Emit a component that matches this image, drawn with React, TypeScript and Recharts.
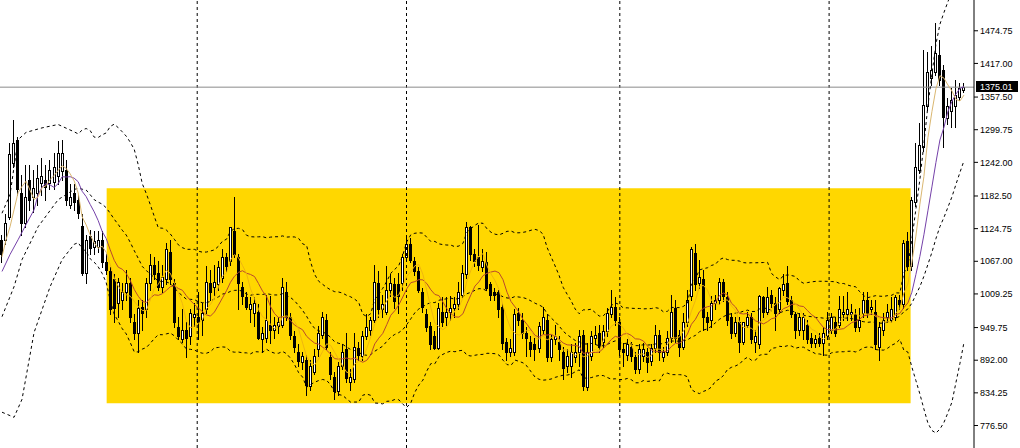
import { ComposedChart, Bar, Line, XAxis, YAxis, ReferenceArea, ReferenceLine } from 'recharts'

// OHLC, one entry per bar
const opens = [
  1105, 1105, 1146, 1241, 1282, 1188, 1135, 1211, 1181, 1188, 1206, 1211, 1206, 1208, 1217, 1226, 1229, 1167, 1188, 1176,
  1130, 1047, 1111, 1093, 1093, 1105, 1065, 1049, 1035, 994, 999, 1012, 1029, 959, 941, 987, 982, 1029, 1061, 1047,
  1022, 1035, 1084, 1029, 950, 929, 946, 934, 968, 969, 964, 982, 1029, 1022, 1026, 1038, 1074, 1067, 1120, 1075,
  1022, 1003, 982, 976, 978, 929, 932, 955, 945, 952, 955, 1012, 969, 934, 907, 888, 893, 846, 872, 911,
  937, 964, 897, 863, 837, 881, 911, 854, 858, 914, 899, 934, 945, 964, 1029, 982, 978, 1017, 1026, 1026,
  1029, 1074, 1097, 1067, 1049, 1013, 973, 952, 934, 914, 978, 968, 978, 985, 991, 1008, 1044, 1127, 1079, 1075,
  1056, 1065, 1026, 1013, 1012, 987, 925, 906, 907, 976, 964, 941, 925, 920, 914, 946, 964, 897, 929, 925,
  907, 881, 881, 897, 906, 937, 844, 899, 932, 941, 925, 943, 973, 987, 959, 911, 902, 916, 897, 876,
  899, 906, 890, 914, 937, 897, 907, 932, 985, 937, 916, 959, 1005, 1082, 1029, 1035, 968, 964, 994, 999,
  1031, 1003, 968, 941, 959, 925, 955, 968, 925, 920, 1003, 978, 1008, 994, 982, 1017, 1029, 999, 973, 946,
  945, 955, 932, 923, 932, 923, 934, 946, 959, 955, 973, 973, 973, 973, 950, 976, 998, 982, 978, 916,
  945, 969, 964, 968, 999, 991, 1102, 1058, 1171, 1229, 1269, 1341, 1392, 1402, 1432, 1406, 1321, 1332, 1341, 1358,
  1370,
]
const highs = [
  1114, 1150, 1277, 1317, 1286, 1220, 1238, 1238, 1229, 1238, 1250, 1238, 1247, 1259, 1279, 1282, 1247, 1203, 1203, 1185,
  1150, 1114, 1123, 1120, 1120, 1120, 1079, 1056, 1044, 1038, 1029, 1052, 1038, 973, 999, 999, 1038, 1079, 1074, 1067,
  1061, 1100, 1105, 1035, 968, 982, 960, 982, 994, 1012, 994, 1058, 1052, 1061, 1067, 1088, 1082, 1128, 1181, 1079,
  1031, 1013, 1003, 1003, 991, 950, 1008, 1005, 968, 969, 1038, 1031, 976, 943, 920, 907, 902, 893, 911, 952,
  978, 973, 907, 872, 888, 920, 941, 876, 941, 925, 943, 973, 969, 1061, 1049, 1008, 1058, 1044, 1038, 1047,
  1079, 1109, 1109, 1074, 1056, 1020, 982, 960, 943, 994, 1003, 1003, 1005, 1003, 1031, 1061, 1137, 1130, 1088, 1132,
  1088, 1084, 1031, 1020, 1017, 994, 932, 929, 982, 985, 976, 950, 934, 932, 959, 987, 973, 937, 955, 934,
  916, 911, 920, 923, 946, 946, 923, 943, 952, 955, 955, 985, 1017, 1003, 968, 923, 929, 925, 907, 920,
  923, 914, 920, 955, 946, 916, 943, 1008, 999, 946, 976, 1017, 1093, 1097, 1070, 1052, 978, 1005, 1008, 1038,
  1035, 1012, 976, 969, 968, 960, 978, 976, 946, 1008, 1005, 1022, 1017, 1003, 1022, 1044, 1058, 1005, 978, 976,
  976, 964, 941, 937, 941, 950, 978, 976, 968, 1005, 1005, 1013, 991, 982, 985, 1012, 1012, 999, 999, 960,
  976, 991, 1003, 1008, 1008, 1105, 1118, 1181, 1277, 1312, 1441, 1438, 1447, 1489, 1459, 1415, 1356, 1374, 1388, 1383,
  1383,
]
const lows = [
  1066, 1097, 1141, 1234, 1185, 1114, 1127, 1158, 1155, 1167, 1185, 1176, 1194, 1194, 1203, 1211, 1167, 1162, 1158, 1144,
  1043, 1029, 1079, 1079, 1084, 1056, 1044, 973, 959, 968, 982, 999, 960, 929, 906, 946, 968, 1017, 1035, 1017,
  1013, 1026, 1026, 950, 929, 925, 897, 920, 952, 929, 937, 976, 999, 1008, 1017, 1031, 1049, 1061, 1074, 982,
  991, 982, 960, 952, 929, 907, 925, 923, 932, 941, 950, 964, 929, 906, 881, 876, 831, 840, 867, 899,
  932, 911, 858, 823, 831, 876, 853, 840, 853, 893, 893, 929, 937, 960, 968, 968, 973, 1005, 985, 976,
  1017, 1067, 1065, 1042, 1012, 978, 943, 911, 911, 911, 952, 955, 964, 968, 982, 1003, 1038, 1070, 1059, 1052,
  1049, 1017, 999, 999, 969, 911, 893, 899, 902, 955, 932, 899, 899, 893, 907, 941, 890, 890, 920, 893,
  858, 872, 863, 888, 881, 840, 840, 893, 920, 907, 916, 934, 968, 955, 902, 881, 893, 890, 870, 870,
  890, 872, 884, 907, 893, 890, 902, 925, 925, 899, 911, 952, 999, 1017, 1020, 946, 946, 950, 982, 991,
  996, 955, 932, 934, 907, 920, 950, 923, 906, 914, 969, 973, 987, 946, 976, 1008, 991, 968, 932, 937,
  929, 923, 916, 916, 918, 902, 929, 941, 934, 950, 964, 964, 964, 943, 943, 969, 969, 973, 911, 893,
  937, 960, 959, 964, 982, 985, 1052, 1052, 1164, 1224, 1262, 1335, 1379, 1397, 1379, 1269, 1309, 1305, 1305, 1353,
  1367,
]
const closes = [
  1079, 1135, 1256, 1277, 1194, 1135, 1181, 1176, 1197, 1215, 1217, 1199, 1229, 1234, 1259, 1259, 1176, 1181, 1171, 1153,
  1047, 1105, 1091, 1102, 1105, 1065, 1052, 982, 985, 1031, 1012, 1029, 969, 941, 985, 976, 1029, 1061, 1044, 1022,
  1040, 1088, 1035, 959, 934, 946, 932, 976, 973, 960, 976, 1031, 1013, 1031, 1056, 1074, 1058, 1127, 1079, 1029,
  1005, 987, 991, 994, 932, 941, 964, 946, 955, 959, 1022, 969, 937, 916, 890, 900, 849, 881, 899, 941,
  968, 916, 867, 837, 881, 907, 861, 863, 916, 902, 934, 950, 964, 1031, 982, 991, 1017, 1029, 996, 1005,
  1074, 1097, 1070, 1049, 1017, 987, 950, 920, 914, 985, 960, 978, 985, 991, 1012, 1047, 1128, 1079, 1067, 1061,
  1067, 1020, 1008, 1008, 982, 923, 907, 914, 973, 964, 941, 932, 911, 911, 952, 969, 897, 929, 934, 911,
  879, 899, 906, 906, 934, 846, 906, 934, 937, 916, 943, 976, 987, 964, 911, 906, 920, 899, 876, 911,
  911, 888, 914, 937, 907, 907, 932, 978, 932, 916, 959, 999, 1088, 1026, 1040, 968, 960, 994, 999, 1031,
  1005, 964, 941, 960, 925, 959, 968, 929, 934, 1005, 978, 1003, 994, 976, 1020, 1026, 996, 973, 945, 968,
  968, 929, 923, 929, 923, 941, 964, 968, 941, 982, 978, 982, 978, 950, 964, 999, 976, 987, 920, 950,
  964, 978, 982, 1003, 991, 1100, 1058, 1176, 1233, 1273, 1344, 1402, 1406, 1436, 1388, 1323, 1341, 1353, 1362, 1374,
  1375.01,
]

// indicator values left of the first full window (null = not read)
const bbUpperLead = [1152, null, 1185, null, 1282, null, 1295, null, null, null, 1303, null, null, null, 1309, null, null, null, 1296]
const bbMiddleLead = [969, null, null, 1022, null, 1070, null, null, null, 1128, null, null, null, null, 1176, null, null, null, 1194]
const bbLowerLead = [800, null, null, 791, null, 823, null, null, 941, null, null, null, 1022, null, null, 1070, null, null, 1097]
const fastMaLead = [1075, 1105, 1128, 1158]
const slowMaLead = [1049, null, 1079, null, 1105, null, 1132, null, 1158]

const priceTicks = [776.5, 834.25, 892.0, 949.75, 1009.25, 1067.0, 1124.75, 1182.5, 1242.0, 1299.75, 1357.5, 1417.0, 1474.75]
const periodSeparators = [49, 101, 154, 206]
const zoneFromBar = 26.5
const zoneToBar = 226.25
const zoneLow = 816
const zoneHigh = 1196
const lastPrice = 1375.01

const BB_PERIOD = 20
const FAST_MA = 5
const SLOW_MA = 10
const EMPTY_BARS = 2
const N = closes.length

const W = 1020
const H = 448
const AXIS_W = 46
const PLOT_W = W - AXIS_W
const FONT = '"Liberation Sans", Arial, sans-serif'

function sma(values: number[], period: number, i: number) {
  let sum = 0
  for (let k = i - period + 1; k <= i; k++) sum += values[k]
  return sum / period
}

function stdev(values: number[], period: number, i: number, mean: number) {
  let sum = 0
  for (let k = i - period + 1; k <= i; k++) sum += (values[k] - mean) ** 2
  return Math.sqrt(sum / period)
}

const data = Array.from({ length: N + EMPTY_BARS }, (_, i) => {
  if (i >= N) return { bar: i }
  const full = i >= BB_PERIOD - 1
  const mid = full ? sma(closes, BB_PERIOD, i) : null
  const dev = mid !== null ? stdev(closes, BB_PERIOD, i, mid) : 0
  return {
    bar: i,
    open: opens[i],
    high: highs[i],
    low: lows[i],
    close: closes[i],
    range: [lows[i], highs[i]],
    fast: i >= FAST_MA - 1 ? sma(closes, FAST_MA, i) : fastMaLead[i],
    slow: i >= SLOW_MA - 1 ? sma(closes, SLOW_MA, i) : slowMaLead[i],
    bbMid: mid !== null ? mid : bbMiddleLead[i],
    bbUp: mid !== null ? mid + 2 * dev : bbUpperLead[i],
    bbLow: mid !== null ? mid - 2 * dev : bbLowerLead[i],
  }
})

function Candle(props: any) {
  const { x, y, width, height, payload } = props
  if (!payload || payload.open == null) return null
  const { open, high, low, close } = payload
  const top = Math.min(y, y + height)
  const h = Math.abs(height)
  const py = (v: number) => Math.round(top + ((high - v) / (high - low || 1)) * h)
  const cx = Math.floor(x + width / 2)
  const yo = py(open)
  const yc = py(close)
  const b0 = Math.min(yo, yc)
  const b1 = Math.max(yo, yc)
  const up = close >= open
  return (
    <g>
      <line x1={cx + 0.5} x2={cx + 0.5} y1={Math.round(top)} y2={Math.round(top + h) + 1} stroke="#000" strokeWidth={1} />
      {b1 === b0 ? (
        <line x1={cx - 1} x2={cx + 2} y1={b0 + 0.5} y2={b0 + 0.5} stroke="#000" strokeWidth={1} />
      ) : up ? (
        <rect x={cx - 0.5} y={b0 + 0.5} width={2} height={b1 - b0} fill="#fff" stroke="#000" strokeWidth={1} />
      ) : (
        <rect x={cx - 1} y={b0} width={3} height={b1 - b0 + 1} fill="#000" />
      )}
    </g>
  )
}

function PriceTag(props: any) {
  const vb = props.viewBox || {}
  const y = Math.round(vb.y)
  return (
    <g>
      <rect x={PLOT_W + 2} y={y - 6} width={42} height={11} fill="#000" />
      <text x={PLOT_W + 6} y={y + 3} fill="#fff" fontSize={9} fontFamily={FONT}>
        {lastPrice.toFixed(2)}
      </text>
    </g>
  )
}

const zoneStartPct = ((zoneFromBar + 0.5) / (N + EMPTY_BARS)) * 100
const zoneEndPct = ((zoneToBar + 0.5) / (N + EMPTY_BARS)) * 100

export default function App() {
  return (
    <div style={{ width: W, height: H, background: '#fff', fontFamily: FONT }}>
      <style>{'body{margin:0}'}</style>
      <ComposedChart width={W} height={H} data={data} margin={{ top: 0, right: 0, bottom: 0, left: 0 }}>
        <defs>
          {/* the MAs change colour where they cross the filled rectangle */}
          <linearGradient id="slowMa" gradientUnits="userSpaceOnUse" x1={0} y1={0} x2={PLOT_W} y2={0}>
            <stop offset={`${zoneStartPct}%`} stopColor="#7440a8" />
            <stop offset={`${zoneStartPct}%`} stopColor="#b8482c" />
            <stop offset={`${zoneEndPct}%`} stopColor="#b8482c" />
            <stop offset={`${zoneEndPct}%`} stopColor="#7440a8" />
          </linearGradient>
          <linearGradient id="fastMa" gradientUnits="userSpaceOnUse" x1={0} y1={0} x2={PLOT_W} y2={0}>
            <stop offset={`${zoneStartPct}%`} stopColor="#d9b670" />
            <stop offset={`${zoneStartPct}%`} stopColor="#efb60f" />
            <stop offset={`${zoneEndPct}%`} stopColor="#efb60f" />
            <stop offset={`${zoneEndPct}%`} stopColor="#d9b670" />
          </linearGradient>
        </defs>
        <XAxis dataKey="bar" type="category" hide />
        <XAxis xAxisId="t" type="number" domain={[-0.5, N + EMPTY_BARS - 0.5]} hide allowDataOverflow />
        <YAxis
          orientation="right"
          width={AXIS_W}
          domain={[736.7, 1529.2]}
          allowDataOverflow
          ticks={priceTicks}
          interval={0}
          tickFormatter={(v: number) => v.toFixed(2)}
          tick={{ fontSize: 9, fill: '#000', fontFamily: FONT }}
          tickSize={4}
          tickMargin={2}
          axisLine={{ stroke: '#000' }}
          tickLine={{ stroke: '#000' }}
        />
        <ReferenceArea
          xAxisId="t"
          x1={zoneFromBar}
          x2={zoneToBar}
          y1={zoneLow}
          y2={zoneHigh}
          fill="#FFD700"
          fillOpacity={1}
          stroke="none"
        />
        {periodSeparators.map((b) => (
          <ReferenceLine key={b} xAxisId="t" x={b} stroke="#000" strokeDasharray="3 3" strokeWidth={1} />
        ))}
        <ReferenceLine y={lastPrice} stroke="#8a8a8a" strokeWidth={1} label={<PriceTag />} />
        <Bar dataKey="range" isAnimationActive={false} shape={(p: any) => <Candle {...p} />} />
        <Line dataKey="bbUp" stroke="#000" strokeDasharray="3 3" strokeWidth={1} dot={false} activeDot={false} connectNulls isAnimationActive={false} />
        <Line dataKey="bbMid" stroke="#000" strokeDasharray="3 3" strokeWidth={1} dot={false} activeDot={false} connectNulls isAnimationActive={false} />
        <Line dataKey="bbLow" stroke="#000" strokeDasharray="3 3" strokeWidth={1} dot={false} activeDot={false} connectNulls isAnimationActive={false} />
        <Line dataKey="slow" stroke="url(#slowMa)" strokeWidth={1} dot={false} activeDot={false} connectNulls isAnimationActive={false} />
        <Line dataKey="fast" stroke="url(#fastMa)" strokeWidth={1} dot={false} activeDot={false} connectNulls isAnimationActive={false} />
      </ComposedChart>
    </div>
  )
}
